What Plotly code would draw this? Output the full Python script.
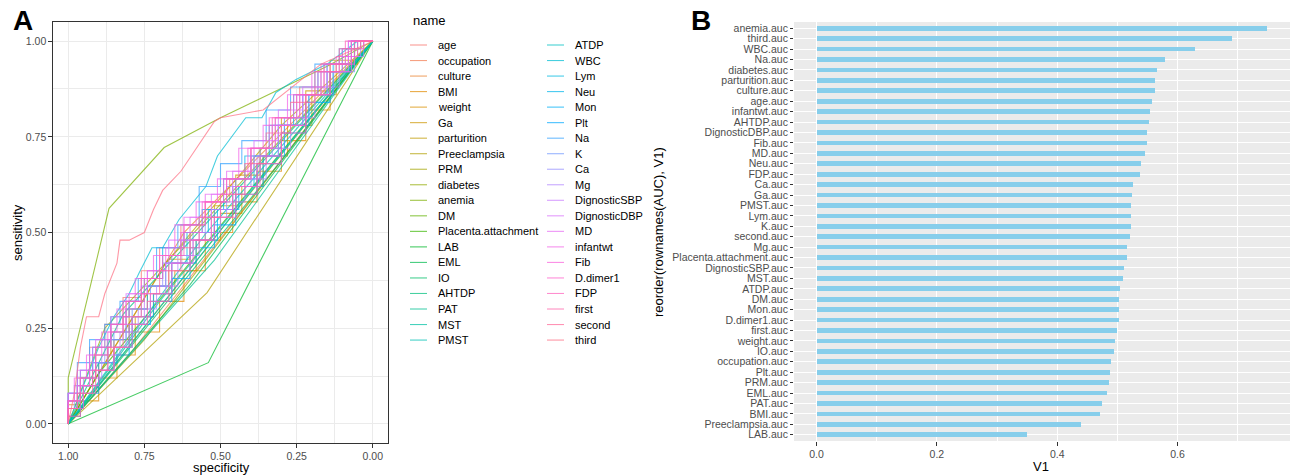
import math
import plotly.graph_objects as go

# ---------------------------------------------------------------- data
# factor levels (legend order, colour order)
VARIABLES = ["age", "occupation", "culture", "BMI", "weight", "Ga", "parturition",
             "Preeclampsia", "PRM", "diabetes", "anemia", "DM", "Placenta.attachment",
             "LAB", "EML", "IO", "AHTDP", "PAT", "MST", "PMST", "ATDP", "WBC", "Lym",
             "Neu", "Mon", "Plt", "Na", "K", "Ca", "Mg", "DignosticSBP", "DignosticDBP",
             "MD", "infantwt", "Fib", "D.dimer1", "FDP", "first", "second", "third"]

# ROC curve points: specificity (descending) and sensitivity (ascending)
ROC_SPEC = {
    "age": [1, 0.97, 0.93, 0.88, 0.82, 0.76, 0.70, 0.63, 0.55, 0.47, 0.40, 0.32, 0.24, 0.16, 0.08, 0.03, 0],
    "occupation": [1, 0.80, 0.45, 0],
    "culture": [1, 0.62, 0],
    "BMI": [1, 0.96, 0.90, 0.84, 0.78, 0.70, 0.62, 0.55, 0.46, 0.38, 0.30, 0.22, 0.14, 0.07, 0],
    "weight": [1, 0.95, 0.90, 0.85, 0.78, 0.72, 0.65, 0.58, 0.50, 0.43, 0.36, 0.28, 0.20, 0.12, 0.05, 0],
    "Ga": [1, 0.96, 0.91, 0.86, 0.80, 0.74, 0.67, 0.60, 0.52, 0.45, 0.37, 0.30, 0.22, 0.14, 0.06, 0],
    "parturition": [1, 0.68, 0.30, 0],
    "Preeclampsia": [1, 0.544, 0],
    "PRM": [1, 0.75, 0],
    "diabetes": [1, 0.88, 0],
    "anemia": [1, 1, 0.866, 0.685, 0.50, 0.148, 0],
    "DM": [1, 0.45, 0],
    "Placenta.attachment": [1, 0.90, 0],
    "LAB": [1, 0.54, 0],
    "EML": [1, 0.60, 0],
    "IO": [1, 0.30, 0],
    "AHTDP": [1, 0.82, 0],
    "PAT": [1, 0.52, 0],
    "MST": [1, 0.70, 0],
    "PMST": [1, 0.55, 0],
    "ATDP": [1, 0.38, 0],
    "WBC": [1, 0.95, 0.90, 0.85, 0.80, 0.767, 0.725, 0.69, 0.636, 0.548, 0.51, 0.417, 0.364, 0.318, 0.252, 0.15, 0.05, 0],
    "Lym": [1, 0.97, 0.92, 0.87, 0.81, 0.74, 0.68, 0.61, 0.54, 0.46, 0.39, 0.31, 0.23, 0.15, 0.07, 0],
    "Neu": [1, 0.96, 0.92, 0.86, 0.80, 0.75, 0.69, 0.62, 0.56, 0.49, 0.42, 0.34, 0.26, 0.18, 0.10, 0.04, 0],
    "Mon": [1, 0.95, 0.90, 0.84, 0.79, 0.72, 0.66, 0.58, 0.51, 0.44, 0.36, 0.29, 0.21, 0.13, 0.06, 0],
    "Plt": [1, 0.96, 0.90, 0.85, 0.80, 0.73, 0.66, 0.60, 0.52, 0.45, 0.38, 0.30, 0.22, 0.14, 0.07, 0],
    "Na": [1, 0.97, 0.93, 0.88, 0.83, 0.77, 0.71, 0.64, 0.57, 0.50, 0.43, 0.35, 0.27, 0.19, 0.11, 0.05, 0],
    "K": [1, 0.96, 0.91, 0.85, 0.79, 0.73, 0.66, 0.59, 0.52, 0.45, 0.37, 0.29, 0.21, 0.13, 0.06, 0],
    "Ca": [1, 0.98, 0.93, 0.88, 0.82, 0.76, 0.69, 0.63, 0.55, 0.48, 0.40, 0.33, 0.25, 0.17, 0.09, 0.03, 0],
    "Mg": [1, 0.95, 0.89, 0.83, 0.77, 0.71, 0.64, 0.57, 0.50, 0.42, 0.35, 0.27, 0.19, 0.11, 0.04, 0],
    "DignosticSBP": [1, 0.96, 0.92, 0.87, 0.81, 0.75, 0.68, 0.60, 0.53, 0.46, 0.38, 0.31, 0.23, 0.15, 0.08, 0],
    "DignosticDBP": [1, 0.97, 0.92, 0.86, 0.81, 0.74, 0.67, 0.60, 0.53, 0.46, 0.39, 0.31, 0.23, 0.15, 0.07, 0],
    "MD": [1, 0.96, 0.91, 0.86, 0.80, 0.74, 0.68, 0.62, 0.55, 0.48, 0.40, 0.32, 0.24, 0.16, 0.08, 0],
    "infantwt": [1, 0.98, 0.94, 0.89, 0.84, 0.78, 0.72, 0.65, 0.58, 0.51, 0.44, 0.36, 0.28, 0.20, 0.12, 0.05, 0],
    "Fib": [1, 0.97, 0.93, 0.87, 0.82, 0.76, 0.70, 0.63, 0.56, 0.49, 0.41, 0.34, 0.26, 0.18, 0.10, 0.03, 0],
    "D.dimer1": [1, 0.95, 0.90, 0.85, 0.79, 0.73, 0.66, 0.59, 0.52, 0.45, 0.37, 0.30, 0.22, 0.14, 0.07, 0],
    "FDP": [1, 0.96, 0.91, 0.86, 0.81, 0.75, 0.69, 0.62, 0.55, 0.48, 0.40, 0.33, 0.25, 0.17, 0.09, 0],
    "first": [1, 0.96, 0.91, 0.85, 0.80, 0.74, 0.67, 0.60, 0.53, 0.46, 0.38, 0.30, 0.22, 0.14, 0.06, 0],
    "second": [1, 0.97, 0.92, 0.87, 0.82, 0.76, 0.70, 0.63, 0.57, 0.50, 0.42, 0.35, 0.27, 0.19, 0.11, 0.04, 0],
    "third": [1, 0.98, 0.96, 0.94, 0.90, 0.88, 0.84, 0.83, 0.80, 0.75, 0.72, 0.69, 0.63, 0.52, 0.50, 0.36, 0.17, 0],
}
ROC_SENS = {
    "age": [0, 0.06, 0.12, 0.20, 0.26, 0.33, 0.40, 0.46, 0.52, 0.58, 0.64, 0.72, 0.80, 0.88, 0.94, 0.98, 1],
    "occupation": [0, 0.18, 0.535, 1],
    "culture": [0, 0.50, 1],
    "BMI": [0, 0.02, 0.06, 0.12, 0.18, 0.24, 0.32, 0.40, 0.50, 0.58, 0.66, 0.74, 0.82, 0.92, 1],
    "weight": [0, 0.06, 0.10, 0.16, 0.22, 0.28, 0.34, 0.40, 0.48, 0.55, 0.62, 0.70, 0.78, 0.86, 0.94, 1],
    "Ga": [0, 0.05, 0.12, 0.18, 0.24, 0.30, 0.36, 0.43, 0.50, 0.57, 0.65, 0.72, 0.80, 0.87, 0.95, 1],
    "parturition": [0, 0.42, 0.78, 1],
    "Preeclampsia": [0, 0.343, 1],
    "PRM": [0, 0.22, 1],
    "diabetes": [0, 0.25, 1],
    "anemia": [0, 0.12, 0.563, 0.722, 0.80, 0.935, 1],
    "DM": [0, 0.556, 1],
    "Placenta.attachment": [0, 0.132, 1],
    "LAB": [0, 0.16, 1],
    "EML": [0, 0.364, 1],
    "IO": [0, 0.688, 1],
    "AHTDP": [0, 0.286, 1],
    "PAT": [0, 0.428, 1],
    "MST": [0, 0.32, 1],
    "PMST": [0, 0.496, 1],
    "ATDP": [0, 0.628, 1],
    "WBC": [0, 0.10, 0.20, 0.28, 0.34, 0.395, 0.46, 0.46, 0.534, 0.62, 0.70, 0.80, 0.80, 0.866, 0.90, 0.94, 1, 1],
    "Lym": [0, 0.04, 0.10, 0.16, 0.22, 0.30, 0.36, 0.42, 0.50, 0.56, 0.62, 0.70, 0.78, 0.86, 0.94, 1],
    "Neu": [0, 0.08, 0.14, 0.20, 0.28, 0.32, 0.38, 0.46, 0.50, 0.56, 0.64, 0.70, 0.78, 0.86, 0.92, 0.98, 1],
    "Mon": [0, 0.04, 0.10, 0.16, 0.20, 0.28, 0.34, 0.42, 0.48, 0.56, 0.62, 0.70, 0.78, 0.86, 0.94, 1],
    "Plt": [0, 0.02, 0.08, 0.14, 0.18, 0.26, 0.32, 0.38, 0.46, 0.52, 0.60, 0.68, 0.76, 0.84, 0.92, 1],
    "Na": [0, 0.08, 0.16, 0.22, 0.26, 0.32, 0.38, 0.46, 0.52, 0.62, 0.68, 0.74, 0.82, 0.88, 0.94, 0.98, 1],
    "K": [0, 0.06, 0.12, 0.16, 0.24, 0.30, 0.36, 0.44, 0.50, 0.56, 0.64, 0.72, 0.80, 0.86, 0.92, 1],
    "Ca": [0, 0.04, 0.10, 0.16, 0.22, 0.28, 0.36, 0.42, 0.48, 0.54, 0.62, 0.70, 0.78, 0.86, 0.92, 0.96, 1],
    "Mg": [0, 0.06, 0.12, 0.18, 0.24, 0.30, 0.36, 0.44, 0.50, 0.58, 0.64, 0.72, 0.80, 0.88, 0.96, 1],
    "DignosticSBP": [0, 0.06, 0.10, 0.14, 0.20, 0.26, 0.34, 0.42, 0.48, 0.56, 0.62, 0.70, 0.78, 0.86, 0.92, 1],
    "DignosticDBP": [0, 0.08, 0.14, 0.20, 0.26, 0.34, 0.40, 0.48, 0.54, 0.60, 0.66, 0.74, 0.82, 0.88, 0.94, 1],
    "MD": [0, 0.08, 0.14, 0.22, 0.28, 0.34, 0.40, 0.46, 0.54, 0.60, 0.66, 0.72, 0.80, 0.86, 0.94, 1],
    "infantwt": [0, 0.06, 0.12, 0.18, 0.24, 0.30, 0.38, 0.44, 0.52, 0.58, 0.64, 0.72, 0.78, 0.86, 0.92, 0.96, 1],
    "Fib": [0, 0.04, 0.10, 0.18, 0.24, 0.32, 0.38, 0.44, 0.50, 0.58, 0.64, 0.72, 0.80, 0.86, 0.92, 0.98, 1],
    "D.dimer1": [0, 0.04, 0.10, 0.14, 0.20, 0.28, 0.34, 0.42, 0.48, 0.54, 0.62, 0.70, 0.78, 0.86, 0.92, 1],
    "FDP": [0, 0.06, 0.12, 0.20, 0.26, 0.32, 0.38, 0.44, 0.52, 0.58, 0.64, 0.72, 0.80, 0.86, 0.94, 1],
    "first": [0, 0.02, 0.08, 0.14, 0.20, 0.26, 0.32, 0.40, 0.48, 0.54, 0.60, 0.68, 0.76, 0.86, 0.94, 1],
    "second": [0, 0.04, 0.08, 0.14, 0.20, 0.28, 0.34, 0.40, 0.46, 0.54, 0.60, 0.68, 0.76, 0.84, 0.92, 0.98, 1],
    "third": [0, 0.08, 0.20, 0.28, 0.28, 0.34, 0.42, 0.48, 0.48, 0.50, 0.56, 0.61, 0.66, 0.79, 0.80, 0.82, 0.94, 1],
}

# continuous predictors are drawn as staircases
STEP_CURVES = ["age", "BMI", "weight", "Ga", "Lym", "Neu", "Mon", "Plt", "Na", "K", "Ca",
               "Mg", "DignosticSBP", "DignosticDBP", "MD", "infantwt", "Fib", "D.dimer1",
               "FDP", "first", "second"]

# AUC per variable, highest first
AUC_LABELS = ["anemia.auc", "third.auc", "WBC.auc", "Na.auc", "diabetes.auc", "parturition.auc",
              "culture.auc", "age.auc", "infantwt.auc", "AHTDP.auc", "DignosticDBP.auc", "Fib.auc",
              "MD.auc", "Neu.auc", "FDP.auc", "Ca.auc", "Ga.auc", "PMST.auc", "Lym.auc", "K.auc",
              "second.auc", "Mg.auc", "Placenta.attachment.auc", "DignosticSBP.auc", "MST.auc",
              "ATDP.auc", "DM.auc", "Mon.auc", "D.dimer1.auc", "first.auc", "weight.auc", "IO.auc",
              "occupation.auc", "Plt.auc", "PRM.auc", "EML.auc", "PAT.auc", "BMI.auc",
              "Preeclampsia.auc", "LAB.auc"]
AUC_VALUES = [0.749, 0.690, 0.629, 0.580, 0.566, 0.563, 0.562, 0.557, 0.555, 0.553, 0.550, 0.549,
              0.546, 0.540, 0.538, 0.526, 0.525, 0.523, 0.523, 0.522, 0.521, 0.516, 0.516, 0.511,
              0.510, 0.504, 0.503, 0.503, 0.502, 0.499, 0.496, 0.494, 0.490, 0.488, 0.486, 0.482,
              0.474, 0.471, 0.439, 0.350]

ROC_TICKS = [1.0, 0.75, 0.5, 0.25, 0.0]
ROC_TICK_TEXT = ["1.00", "0.75", "0.50", "0.25", "0.00"]
AUC_TICKS = [0.0, 0.2, 0.4, 0.6]
AUC_TICK_TEXT = ["0.0", "0.2", "0.4", "0.6"]

# ---------------------------------------------------------------- styling helpers
W, H = 1292, 476
FONT = "Liberation Sans"
LINE_ALPHA = 0.72


def hcl_rgb(h, c=100.0, l=65.0):
    """Polar Luv -> sRGB (same scheme as the default discrete hue palette)."""
    hr = math.radians(h)
    U, V = c * math.cos(hr), c * math.sin(hr)
    Xn, Yn, Zn = 95.047, 100.0, 108.883
    den = Xn + 15 * Yn + 3 * Zn
    un, vn = 4 * Xn / den, 9 * Yn / den
    Y = Yn * ((l + 16) / 116) ** 3
    u = U / (13 * l) + un
    v = V / (13 * l) + vn
    X = Y * 9 * u / (4 * v)
    Z = Y * (12 - 3 * u - 20 * v) / (4 * v)
    X, Y, Z = X / 100, Y / 100, Z / 100
    rgb = [3.2404542 * X - 1.5371385 * Y - 0.4985314 * Z,
           -0.9692660 * X + 1.8760108 * Y + 0.0415560 * Z,
           0.0556434 * X - 0.2040259 * Y + 1.0572252 * Z]
    out = []
    for ch in rgb:
        ch = 12.92 * ch if ch <= 0.0031308 else 1.055 * ch ** (1 / 2.4) - 0.055
        out.append(int(round(min(max(ch, 0), 1) * 255)))
    return tuple(out)


n = len(VARIABLES)
COLORS = {}
for i, name in enumerate(VARIABLES):
    r, g, b = hcl_rgb(15 + i * 360.0 / n)
    COLORS[name] = "rgba(%d,%d,%d,%.2f)" % (r, g, b, LINE_ALPHA)


def px(x):
    return x / W


def py(y):
    return 1 - y / H


fig = go.Figure()

# ---------------------------------------------------------------- panel A: ROC curves
for name in VARIABLES:
    fig.add_trace(go.Scatter(
        x=ROC_SPEC[name], y=ROC_SENS[name], mode="lines", name=name,
        line=dict(color=COLORS[name], width=1.1,
                  shape="vh" if name in STEP_CURVES else "linear"),
        showlegend=False, xaxis="x", yaxis="y"))

# ---------------------------------------------------------------- panel B: AUC bars
fig.add_trace(go.Bar(
    x=AUC_VALUES, y=AUC_LABELS, orientation="h", width=0.45,
    marker=dict(color="#87CEEB", line=dict(width=0)),
    showlegend=False, xaxis="x2", yaxis="y2"))

grid_a = "#EBEBEB"
fig.update_layout(
    width=W, height=H, margin=dict(l=0, r=0, t=0, b=0),
    paper_bgcolor="white", plot_bgcolor="white",
    font=dict(family=FONT, color="black"),
    xaxis=dict(domain=[px(53), px(388)], range=[1.05, -0.05], anchor="y",
               tickvals=ROC_TICKS, ticktext=ROC_TICK_TEXT,
               tickfont=dict(size=10.5, color="#4D4D4D"),
               ticks="outside", ticklen=3.5, tickcolor="#333333", tickwidth=1,
               showgrid=True, gridcolor=grid_a, gridwidth=1.1,
               minor=dict(tickvals=[0.875, 0.625, 0.375, 0.125], showgrid=True,
                          gridcolor=grid_a, gridwidth=0.55, ticks=""),
               showline=True, linecolor="#333333", linewidth=1.2, mirror=True,
               zeroline=False),
    yaxis=dict(domain=[py(443), py(22)], range=[-0.05, 1.05], anchor="x",
               tickvals=ROC_TICKS, ticktext=ROC_TICK_TEXT,
               tickfont=dict(size=10.5, color="#4D4D4D"),
               ticks="outside", ticklen=3.5, tickcolor="#333333", tickwidth=1,
               showgrid=True, gridcolor=grid_a, gridwidth=1.1,
               minor=dict(tickvals=[0.875, 0.625, 0.375, 0.125], showgrid=True,
                          gridcolor=grid_a, gridwidth=0.55, ticks=""),
               showline=True, linecolor="#333333", linewidth=1.2, mirror=True,
               zeroline=False),
    xaxis2=dict(domain=[px(794), px(1290)], range=[-0.0375, 0.787], anchor="y2",
                tickvals=AUC_TICKS, ticktext=AUC_TICK_TEXT,
                tickfont=dict(size=10.5, color="#4D4D4D"),
                ticks="outside", ticklen=3.5, tickcolor="#333333", tickwidth=1,
                showgrid=True, gridcolor="white", gridwidth=1.1,
                minor=dict(tickvals=[0.1, 0.3, 0.5, 0.7], showgrid=True,
                           gridcolor="white", gridwidth=0.55, ticks=""),
                showline=False, zeroline=False),
    yaxis2=dict(domain=[py(441), py(22)], range=[-0.6, len(AUC_LABELS) - 0.4], anchor="x2",
                type="category", categoryorder="array",
                categoryarray=AUC_LABELS[::-1],
                tickmode="array", tickvals=AUC_LABELS, ticktext=AUC_LABELS,
                tickfont=dict(size=10.5, color="#4D4D4D"),
                ticks="outside", ticklen=3, tickcolor="#333333", tickwidth=1,
                showgrid=True, gridcolor="white", gridwidth=1.1,
                showline=False, zeroline=False),
    bargap=0,
)

# grey panel background for B
fig.add_shape(type="rect", xref="x2 domain", yref="y2 domain", x0=0, x1=1, y0=0, y1=1,
              fillcolor="#EBEBEB", line=dict(width=0), layer="below")

# ---------------------------------------------------------------- titles and panel letters
ann = [
    dict(text="<b>A</b>", x=px(11), y=py(21), xanchor="left", yanchor="middle",
         font=dict(size=28)),
    dict(text="<b>B</b>", x=px(689), y=py(21), xanchor="left", yanchor="middle",
         font=dict(size=28)),
    dict(text="sensitivity", x=px(17), y=py(233), textangle=-90,
         xanchor="center", yanchor="middle", font=dict(size=13)),
    dict(text="specificity", x=px(221), y=py(467), xanchor="center", yanchor="middle",
         font=dict(size=13)),
    dict(text="V1", x=px(1041), y=py(466), xanchor="center", yanchor="middle",
         font=dict(size=13)),
    dict(text="reorder(rownames(AUC), V1)", x=px(658), y=py(232), textangle=-90,
         xanchor="center", yanchor="middle", font=dict(size=13)),
    dict(text="name", x=px(411), y=py(21), xanchor="left", yanchor="middle",
         font=dict(size=13)),
]

# two-column legend for panel A
row_h = 15.53
for i, name in enumerate(VARIABLES):
    col, row = divmod(i, 20)
    yc = 45 + row * row_h
    x0 = 410 if col == 0 else 547
    fig.add_shape(type="line", xref="paper", yref="paper",
                  x0=px(x0), x1=px(x0 + 17), y0=py(yc), y1=py(yc),
                  line=dict(color=COLORS[name], width=1.1))
    ann.append(dict(text=name, x=px(x0 + 26), y=py(yc), xanchor="left", yanchor="middle",
                    font=dict(size=11)))

for a in ann:
    a.update(xref="paper", yref="paper", showarrow=False)
fig.update_layout(annotations=ann)

fig.write_html("out.html")
